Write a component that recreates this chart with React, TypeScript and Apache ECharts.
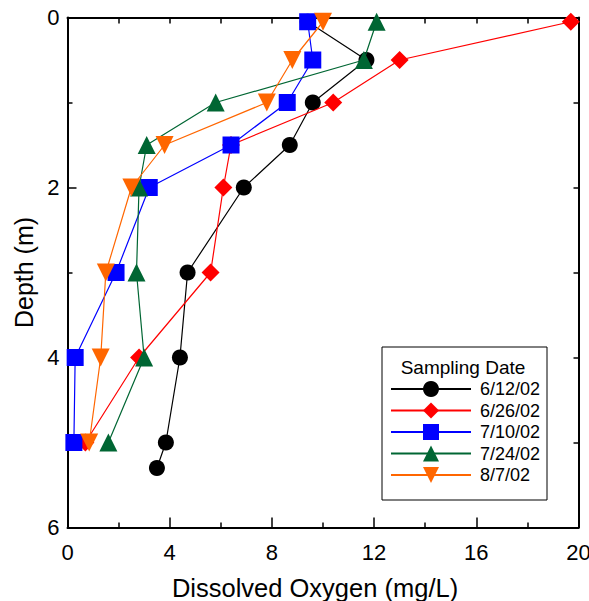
import React, { useEffect, useRef } from "react";
import * as echarts from "echarts";

const seriesNames = ["6/12/02", "6/26/02", "7/10/02", "7/24/02", "8/7/02"];
const seriesColors = ["#000000", "#ff0000", "#0000ff", "#006633", "#ff6600"];
const seriesSymbols = ["circle", "diamond", "rect", "triangle", "triangle"];
const seriesRotate = [0, 0, 0, 0, 180];
const seriesSizes = [16, 18, 17, 18, 18];

const depthBlack = [0.05, 0.5, 1, 1.5, 2, 3, 4, 5, 5.3];
const doBlack = [9.4, 11.7, 9.6, 8.7, 6.9, 4.7, 4.4, 3.85, 3.5];
const depthRed = [0.05, 0.5, 1, 1.5, 2, 3, 4, 5];
const doRed = [19.7, 13.0, 10.4, 6.4, 6.1, 5.6, 2.8, 0.7];
const depthBlue = [0.05, 0.5, 1, 1.5, 2, 3, 4, 5];
const doBlue = [9.4, 9.6, 8.6, 6.4, 3.2, 1.9, 0.3, 0.25];
const depthGreen = [0.05, 0.5, 1, 1.5, 2, 3, 4, 5];
const doGreen = [12.1, 11.6, 5.8, 3.1, 2.8, 2.7, 3.0, 1.6];
const depthOrange = [0.05, 0.5, 1, 1.5, 2, 3, 4, 5];
const doOrange = [10.0, 8.8, 7.8, 3.8, 2.5, 1.5, 1.3, 0.85];

const xTitle = "Dissolved Oxygen (mg/L)";
const yTitle = "Depth (m)";
const legendTitle = "Sampling Date";

const FONT = "'Liberation Sans', Arial, Helvetica, sans-serif";

export default function App() {
  const ref = useRef<HTMLDivElement>(null);
  useEffect(() => {
    if (!ref.current) return;
    const chart = echarts.init(ref.current, undefined, { renderer: "svg" });
    const depths = [depthBlack, depthRed, depthBlue, depthGreen, depthOrange];
    const values = [doBlack, doRed, doBlue, doGreen, doOrange];
    const series = seriesNames.map((name, i) => ({
      name,
      type: "line",
      data: values[i].map((v, j) => [v, depths[i][j]]),
      symbol: seriesSymbols[i],
      symbolSize: seriesSizes[i],
      symbolRotate: seriesRotate[i],
      clip: false,
      color: seriesColors[i],
      lineStyle: { color: seriesColors[i], width: 1.2 },
      itemStyle: { color: seriesColors[i] },
      z: 2 + i * 0.01,
    }));
    const axisLine = { show: true, onZero: false, lineStyle: { color: "#000", width: 2 } };
    chart.setOption({
      animation: false,
      backgroundColor: "#fff",
      grid: {
        left: 67.5,
        top: 17.5,
        width: 511,
        height: 510,
        containLabel: false,
        outerBoundsMode: "none",
      },
      xAxis: [
        {
          type: "value",
          position: "bottom",
          min: 0,
          max: 20,
          interval: 4,
          axisLine,
          axisTick: { show: true, inside: true, length: 10, lineStyle: { color: "#000", width: 1.5 } },
          minorTick: { show: true, splitNumber: 2, length: 5, lineStyle: { color: "#000", width: 1.5 } },
          axisLabel: { fontSize: 22, fontFamily: FONT, color: "#000", margin: 14, showMaxLabel: true },
          splitLine: { show: false },
          name: xTitle,
          nameLocation: "middle",
          nameGap: 47,
          nameTextStyle: { fontSize: 25.5, fontFamily: FONT, color: "#000", padding: [0, 16, 0, 0] },
        },
        {
          type: "value",
          position: "top",
          min: 0,
          max: 20,
          interval: 2,
          axisLine,
          axisTick: { show: true, inside: true, length: 6, lineStyle: { color: "#000", width: 1.5 } },
          axisLabel: { show: false },
          splitLine: { show: false },
        },
      ],
      yAxis: [
        {
          type: "value",
          position: "left",
          inverse: true,
          min: 0,
          max: 6,
          interval: 2,
          axisLine,
          axisTick: { show: true, inside: true, length: 9, lineStyle: { color: "#000", width: 1.5 } },
          minorTick: { show: true, splitNumber: 2, length: 5, lineStyle: { color: "#000", width: 1.5 } },
          axisLabel: { fontSize: 22, fontFamily: FONT, color: "#000", margin: 8 },
          splitLine: { show: false },
          name: yTitle,
          nameLocation: "middle",
          nameGap: 28,
          nameTextStyle: { fontSize: 25, fontFamily: FONT, color: "#000" },
        },
        {
          type: "value",
          position: "right",
          inverse: true,
          min: 0,
          max: 6,
          interval: 1,
          axisLine,
          axisTick: { show: true, inside: true, length: 5, lineStyle: { color: "#000", width: 1.5 } },
          axisLabel: { show: false },
          splitLine: { show: false },
        },
      ],
      legend: {
        orient: "vertical",
        left: 390,
        top: 380,
        itemWidth: 80,
        itemHeight: 20,
        itemGap: 3.5,
        padding: 0,
        selectedMode: false,
        data: seriesNames,
        textStyle: { fontSize: 18, fontFamily: FONT, color: "#000", padding: [0, 0, 0, 4] },
        z: 5,
      },
      graphic: [
        {
          type: "rect",
          z: 3,
          shape: { x: 382, y: 347, width: 165, height: 153 },
          style: { fill: "#fff", stroke: "#000", lineWidth: 1 },
        },
        {
          type: "text",
          z: 4,
          x: 463,
          y: 367,
          style: {
            text: legendTitle,
            font: `19px ${FONT}`,
            fill: "#000",
            align: "center",
            verticalAlign: "middle",
            textAlign: "center",
            textVerticalAlign: "middle",
          },
        },
      ],
      series,
    });
    return () => chart.dispose();
  }, []);
  return (
    <div
      ref={ref}
      style={{ position: "absolute", left: 0, top: 0, width: 589, height: 601 }}
    />
  );
}
